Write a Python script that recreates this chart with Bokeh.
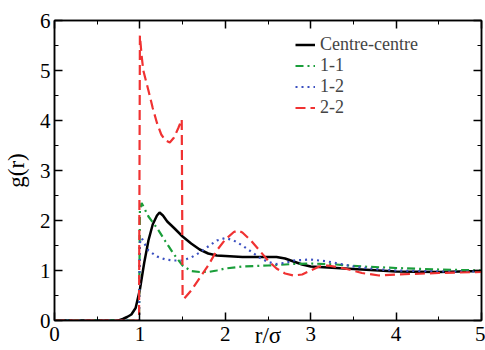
from bokeh.plotting import figure
from bokeh.models import LinearAxis, SingleIntervalTicker, Range1d, Legend, LegendItem, CustomJSTickFormatter
from bokeh.embed import file_html
from bokeh.resources import INLINE

# Centre-centre
r_cc = [0, 0.7, 0.75, 0.8, 0.85, 0.9, 0.95, 1.0, 1.05, 1.1, 1.15, 1.2, 1.23, 1.27, 1.32, 1.4, 1.5, 1.6, 1.7, 1.8, 1.9, 2.0, 2.2, 2.4, 2.6, 2.7, 2.8, 2.9, 3.0, 3.2, 3.5, 3.8, 4.0, 4.5, 5.0]
g_cc = [0, 0, 0.0, 0.03, 0.07, 0.12, 0.25, 0.62, 1.15, 1.6, 1.92, 2.1, 2.16, 2.1, 1.98, 1.85, 1.68, 1.54, 1.42, 1.34, 1.3, 1.29, 1.27, 1.27, 1.27, 1.24, 1.18, 1.12, 1.08, 1.06, 1.03, 1.0, 0.98, 0.97, 0.99]

# 1-1
r_11 = [0, 0.99, 1.0, 1.02, 1.05, 1.1, 1.2, 1.3, 1.4, 1.5, 1.6, 1.7, 1.8, 1.9, 2.0, 2.2, 2.5, 2.8, 3.0, 3.3, 3.6, 4.0, 4.5, 5.0]
g_11 = [0, 0, 2.2, 2.35, 2.25, 2.08, 1.85, 1.58, 1.32, 1.1, 0.99, 0.97, 0.97, 1.0, 1.04, 1.08, 1.1, 1.13, 1.14, 1.12, 1.08, 1.05, 1.02, 1.0]

# 1-2
r_12 = [0, 0.99, 1.0, 1.02, 1.05, 1.1, 1.2, 1.3, 1.4, 1.5, 1.6, 1.7, 1.8, 1.9, 2.0, 2.1, 2.2, 2.3, 2.4, 2.5, 2.6, 2.7, 2.8, 3.0, 3.2, 3.5, 3.8, 4.0, 4.5, 5.0]
g_12 = [0, 0, 1.55, 1.65, 1.55, 1.4, 1.28, 1.22, 1.2, 1.2, 1.26, 1.36, 1.48, 1.6, 1.65, 1.6, 1.5, 1.38, 1.26, 1.17, 1.13, 1.15, 1.2, 1.22, 1.18, 1.08, 1.02, 1.0, 0.98, 0.98]

# 2-2
r_22 = [0, 0.99, 1.0, 1.02, 1.04, 1.07, 1.1, 1.15, 1.2, 1.25, 1.3, 1.35, 1.4, 1.45, 1.49, 1.5, 1.52, 1.6, 1.7, 1.8, 1.9, 2.0, 2.1, 2.15, 2.2, 2.3, 2.4, 2.5, 2.6, 2.7, 2.8, 2.9, 3.0, 3.1, 3.2, 3.4, 3.6, 3.8, 4.0, 4.5, 5.0]
g_22 = [0, 0, 5.7, 5.3, 5.0, 4.8, 4.6, 4.25, 3.95, 3.72, 3.6, 3.56, 3.66, 3.85, 4.02, 0.45, 0.44, 0.6, 0.85, 1.1, 1.4, 1.62, 1.77, 1.8, 1.76, 1.6, 1.4, 1.2, 1.04, 0.94, 0.9, 0.92, 1.0, 1.08, 1.1, 1.04, 0.95, 0.9, 0.92, 0.95, 0.97]

labels = ["Centre-centre", "1-1", "1-2", "2-2"]
x_title = "r/σ"
y_title = "g(r)"

FONT = "Liberation Serif"

p = figure(width=485, height=350, output_backend="svg", toolbar_location=None,
           x_range=Range1d(0, 5), y_range=Range1d(0, 6),
           min_border_left=51, min_border_right=4, min_border_top=20, min_border_bottom=30)
p.xgrid.visible = False
p.ygrid.visible = False
p.outline_line_color = "black"
p.outline_line_width = 1.5
p.background_fill_color = "white"
p.border_fill_color = "white"

bottom = p.below[0]
left = p.left[0]
bottom.ticker = SingleIntervalTicker(interval=1, num_minor_ticks=2)
left.ticker = SingleIntervalTicker(interval=1, num_minor_ticks=2)

blank = CustomJSTickFormatter(code="return ''")
top = LinearAxis(ticker=SingleIntervalTicker(interval=1, num_minor_ticks=2), formatter=blank)
right = LinearAxis(ticker=SingleIntervalTicker(interval=1, num_minor_ticks=2), formatter=blank)
p.add_layout(top, "above")
p.add_layout(right, "right")

for ax in [bottom, left, top, right]:
    ax.major_tick_in = 8
    ax.major_tick_out = 0
    ax.minor_tick_in = 4
    ax.minor_tick_out = 0
    ax.axis_line_color = "black"
    ax.axis_line_width = 1.5
    ax.major_tick_line_width = 1.5
    ax.minor_tick_line_width = 1
    ax.major_label_text_font = FONT
    ax.major_label_text_font_size = "21px"
    ax.major_label_text_color = "black"

for ax in [top, right]:
    ax.major_label_standoff = 0

bottom.major_label_standoff = 6
left.major_label_standoff = 4
bottom.axis_label = x_title
left.axis_label = y_title
for ax in [bottom, left]:
    ax.axis_label_text_font = FONT
    ax.axis_label_text_font_size = "23px"
    ax.axis_label_text_font_style = "normal"
    ax.axis_label_text_color = "black"
bottom.axis_label_standoff = -21
left.axis_label_standoff = 8

l_cc = p.line(r_cc, g_cc, line_color="black", line_width=2.5)
l_11 = p.line(r_11, g_11, line_color="#1a9e3a", line_width=2.2, line_dash="8 4 2 4")
l_12 = p.line(r_12, g_12, line_color="#3a4fc0", line_width=2.2, line_dash="2 4")
l_22 = p.line(r_22, g_22, line_color="#f03232", line_width=2.2, line_dash="10 5")

legend = Legend(items=[LegendItem(label=labels[0], renderers=[l_cc]),
                       LegendItem(label=labels[1], renderers=[l_11]),
                       LegendItem(label=labels[2], renderers=[l_12]),
                       LegendItem(label=labels[3], renderers=[l_22])],
                location=(241, 202), label_text_font=FONT, label_text_font_size="18px",
                label_height=17, glyph_height=17, glyph_width=20, spacing=-6, padding=0,
                margin=0, label_standoff=5, border_line_color=None,
                background_fill_alpha=0)
p.add_layout(legend, "center")

open("out.html", "w").write(file_html(p, INLINE))
